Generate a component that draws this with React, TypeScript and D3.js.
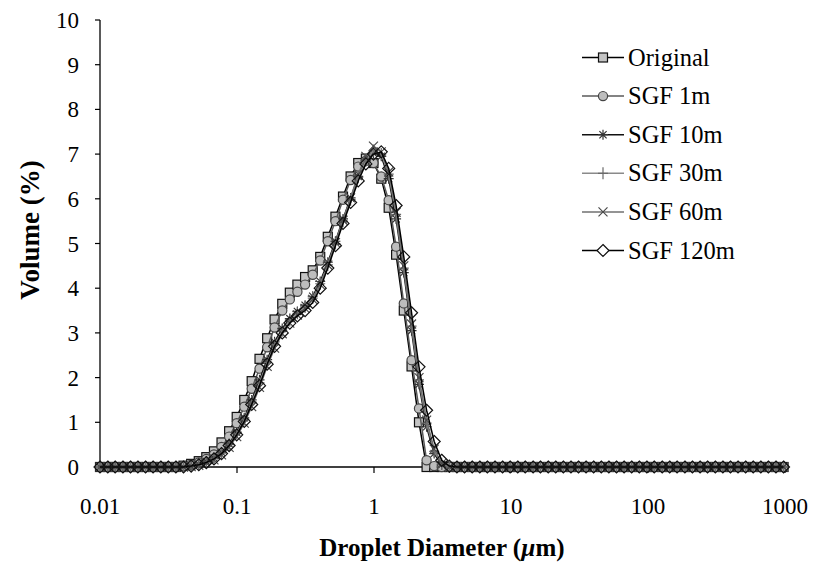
import React from "react";
import * as d3 from "d3";

// Droplet diameter bins (µm)
const diameters = [
  0.01, 0.0114, 0.0129, 0.0147, 0.0167, 0.0189, 0.0215, 0.0244, 0.0278, 0.0315,
  0.0358, 0.0407, 0.0463, 0.0526, 0.0597, 0.0679, 0.0771, 0.0876, 0.0995, 0.113,
  0.128, 0.146, 0.166, 0.188, 0.214, 0.243, 0.276, 0.314, 0.357, 0.405,
  0.46, 0.523, 0.594, 0.675, 0.767, 0.872, 0.991, 1.13, 1.28, 1.45,
  1.65, 1.88, 2.13, 2.42, 2.75, 3.12, 3.55, 4.03, 4.58, 5.21,
  5.92, 6.72, 7.64, 8.68, 9.86, 11.2, 12.7, 14.5, 16.4, 18.7,
  21.2, 24.1, 27.4, 31.1, 35.3, 40.1, 45.6, 51.8, 58.9, 66.9,
  76.0, 86.4, 98.1, 111, 127, 144, 163, 186, 211, 240,
  272, 310, 352, 400, 454, 516, 586, 666, 756, 859,
  976,
];

const original = [
  0, 0, 0, 0, 0, 0, 0, 0, 0, 0, 0,
  0.03, 0.07, 0.13, 0.22, 0.35, 0.55, 0.8, 1.12, 1.5, 1.92, 2.42, 2.88, 3.3, 3.65, 3.9, 4.08, 4.25, 4.4, 4.7,
  5.15, 5.6, 6.05, 6.5, 6.8, 6.9, 6.8, 6.45, 5.8, 4.75, 3.5, 2.25, 1.0, 0, 0, 0, 0, 0,
  0, 0, 0, 0, 0, 0, 0, 0, 0, 0, 0, 0, 0, 0, 0, 0, 0, 0, 0, 0, 0, 0,
  0, 0, 0, 0, 0, 0, 0, 0, 0, 0, 0, 0, 0, 0, 0, 0, 0, 0, 0, 0, 0,
];
const sgf1 = [
  0, 0, 0, 0, 0, 0, 0, 0, 0, 0, 0,
  0.02, 0.05, 0.1, 0.18, 0.28, 0.45, 0.68, 0.98, 1.35, 1.75, 2.2, 2.68, 3.12, 3.5, 3.75, 3.92, 4.08, 4.3, 4.62,
  5.05, 5.5, 5.98, 6.42, 6.72, 6.85, 6.8, 6.5, 5.97, 4.93, 3.66, 2.39, 1.31, 0.15, 0.02, 0, 0, 0,
  0, 0, 0, 0, 0, 0, 0, 0, 0, 0, 0, 0, 0, 0, 0, 0, 0, 0, 0, 0, 0, 0,
  0, 0, 0, 0, 0, 0, 0, 0, 0, 0, 0, 0, 0, 0, 0, 0, 0, 0, 0, 0, 0,
];
const sgf10 = [
  0, 0, 0, 0, 0, 0, 0, 0, 0, 0, 0,
  0, 0.02, 0.06, 0.12, 0.2, 0.33, 0.52, 0.78, 1.1, 1.5, 1.95, 2.4, 2.8, 3.1, 3.32, 3.48, 3.62, 3.82, 4.15,
  4.58, 5.05, 5.55, 6.02, 6.5, 6.85, 7.02, 6.95, 6.45, 5.55, 4.35, 3.05, 1.85, 0.9, 0.3, 0.05, 0, 0,
  0, 0, 0, 0, 0, 0, 0, 0, 0, 0, 0, 0, 0, 0, 0, 0, 0, 0, 0, 0, 0, 0,
  0, 0, 0, 0, 0, 0, 0, 0, 0, 0, 0, 0, 0, 0, 0, 0, 0, 0, 0, 0, 0,
];
const sgf30 = [
  0, 0, 0, 0, 0, 0, 0, 0, 0, 0, 0,
  0, 0.02, 0.05, 0.11, 0.19, 0.31, 0.5, 0.75, 1.06, 1.45, 1.88, 2.34, 2.74, 3.05, 3.28, 3.44, 3.58, 3.78, 4.1,
  4.52, 5.0, 5.5, 5.98, 6.48, 6.85, 7.08, 7.0, 6.55, 5.65, 4.45, 3.15, 1.95, 0.98, 0.35, 0.07, 0, 0,
  0, 0, 0, 0, 0, 0, 0, 0, 0, 0, 0, 0, 0, 0, 0, 0, 0, 0, 0, 0, 0, 0,
  0, 0, 0, 0, 0, 0, 0, 0, 0, 0, 0, 0, 0, 0, 0, 0, 0, 0, 0, 0, 0,
];
const sgf60 = [
  0, 0, 0, 0, 0, 0, 0, 0, 0, 0, 0,
  0, 0.01, 0.04, 0.09, 0.16, 0.27, 0.44, 0.68, 0.98, 1.35, 1.78, 2.25, 2.66, 2.98, 3.22, 3.4, 3.55, 3.75, 4.08,
  4.52, 5.02, 5.52, 6.02, 6.55, 6.95, 7.18, 7.05, 6.6, 5.7, 4.5, 3.2, 2.0, 1.05, 0.4, 0.08, 0, 0,
  0, 0, 0, 0, 0, 0, 0, 0, 0, 0, 0, 0, 0, 0, 0, 0, 0, 0, 0, 0, 0, 0,
  0, 0, 0, 0, 0, 0, 0, 0, 0, 0, 0, 0, 0, 0, 0, 0, 0, 0, 0, 0, 0,
];
const sgf120 = [
  0, 0, 0, 0, 0, 0, 0, 0, 0, 0, 0,
  0, 0.02, 0.05, 0.1, 0.18, 0.3, 0.48, 0.72, 1.02, 1.4, 1.82, 2.3, 2.7, 3.0, 3.22, 3.38, 3.5, 3.68, 4.0,
  4.45, 4.95, 5.45, 5.92, 6.4, 6.78, 7.0, 7.05, 6.68, 5.85, 4.7, 3.45, 2.24, 1.27, 0.57, 0.15, 0.02, 0,
  0, 0, 0, 0, 0, 0, 0, 0, 0, 0, 0, 0, 0, 0, 0, 0, 0, 0, 0, 0, 0, 0,
  0, 0, 0, 0, 0, 0, 0, 0, 0, 0, 0, 0, 0, 0, 0, 0, 0, 0, 0, 0, 0,
];

const seriesNames = ["Original", "SGF 1m", "SGF 10m", "SGF 30m", "SGF 60m", "SGF 120m"];
const seriesValues = [original, sgf1, sgf10, sgf30, sgf60, sgf120];
const xTicks = [0.01, 0.1, 1, 10, 100, 1000];
const xTickLabels = ["0.01", "0.1", "1", "10", "100", "1000"];
const yTicks = [0, 1, 2, 3, 4, 5, 6, 7, 8, 9, 10];

type Style = { kind: string; line: string; stroke: string; fill: string };
const styles: Style[] = [
  { kind: "square", line: "#000", stroke: "#111", fill: "#c4c4c4" },
  { kind: "circle", line: "#5a5a5a", stroke: "#444", fill: "#bdbdbd" },
  { kind: "asterisk", line: "#111", stroke: "#333", fill: "none" },
  { kind: "plus", line: "#8a8a8a", stroke: "#6a6a6a", fill: "none" },
  { kind: "cross", line: "#707070", stroke: "#4a4a4a", fill: "none" },
  { kind: "diamond", line: "#000", stroke: "#111", fill: "none" },
];

const FONT = "'Liberation Serif', 'Times New Roman', serif";

function Marker({ kind, x, y, s, fillOverride }: { kind: string; x: number; y: number; s: Style; fillOverride?: string }) {
  const sw = 1.2;
  const fill = fillOverride || s.fill;
  switch (kind) {
    case "square":
      return <rect x={x - 4.5} y={y - 4.5} width={9} height={9} fill={fill} stroke={s.stroke} strokeWidth={sw} />;
    case "circle":
      return <circle cx={x} cy={y} r={4.6} fill={fill} stroke={s.stroke} strokeWidth={sw} />;
    case "diamond":
      return <path d={`M${x},${y - 6}L${x + 6},${y}L${x},${y + 6}L${x - 6},${y}Z`} fill={fill} stroke={s.stroke} strokeWidth={sw} />;
    case "asterisk":
      return (
        <path
          d={`M${x - 5},${y}H${x + 5}M${x - 3.6},${y - 3.6}L${x + 3.6},${y + 3.6}M${x - 3.6},${y + 3.6}L${x + 3.6},${y - 3.6}M${x},${y - 5}V${y + 5}`}
          stroke={s.stroke}
          strokeWidth={sw}
          fill="none"
        />
      );
    case "plus":
      return <path d={`M${x - 5},${y}H${x + 5}M${x},${y - 6}V${y + 6}`} stroke={s.stroke} strokeWidth={sw} fill="none" />;
    case "cross":
      return (
        <path
          d={`M${x - 4.5},${y - 4.5}L${x + 4.5},${y + 4.5}M${x - 4.5},${y + 4.5}L${x + 4.5},${y - 4.5}`}
          stroke={s.stroke}
          strokeWidth={sw}
          fill="none"
        />
      );
    default:
      return null;
  }
}

export default function App() {
  const W = 814;
  const H = 562;
  const left = 100;
  const right = 785;
  const top = 20;
  const bottom = 467;

  const x = d3.scaleLog().domain([0.01, 1000]).range([left, right]);
  const y = d3.scaleLinear().domain([0, 10]).range([bottom, top]);

  const line = d3
    .line<number>()
    .x((_, i) => x(diameters[i]))
    .y((v) => y(v));

  const legendX = 582;
  const legendY0 = 57.5;
  const legendDy = 38.6;

  return (
    <div style={{ position: "fixed", left: 0, top: 0 }}>
      <svg width={W} height={H} style={{ display: "block", background: "#fff" }}>
        <rect x={0} y={0} width={W} height={H} fill="#fff" />
        {/* axes */}
        <line x1={left} x2={left} y1={top} y2={bottom} stroke="#000" strokeWidth={1.3} />
        <line x1={left} x2={right} y1={bottom} y2={bottom} stroke="#000" strokeWidth={1.3} />

        {/* y ticks */}
        {yTicks.map((t) => (
          <g key={"y" + t}>
            <line x1={left - 5} x2={left} y1={y(t)} y2={y(t)} stroke="#000" strokeWidth={1.2} />
            <text x={79} y={y(t) + 8} textAnchor="end" fontFamily={FONT} fontSize={23} fill="#000">
              {t}
            </text>
          </g>
        ))}

        {/* x ticks */}
        {xTicks.map((t, i) => (
          <g key={"x" + t}>
            <line x1={x(t)} x2={x(t)} y1={bottom} y2={bottom + 6} stroke="#000" strokeWidth={1.2} />
            <text x={x(t)} y={514} textAnchor="middle" fontFamily={FONT} fontSize={23} fill="#000">
              {xTickLabels[i]}
            </text>
          </g>
        ))}

        {/* series */}
        {seriesValues.map((vals, si) => {
          const s = styles[si];
          return (
            <g key={seriesNames[si]}>
              <path d={line(vals) || ""} fill="none" stroke={s.line} strokeWidth={1.5} />
              {vals.map((v, i) => (
                <Marker key={i} kind={s.kind} x={x(diameters[i])} y={y(v)} s={s} />
              ))}
            </g>
          );
        })}

        {/* legend */}
        {seriesNames.map((name, i) => {
          const s = styles[i];
          const ly = legendY0 + i * legendDy;
          return (
            <g key={"leg" + name}>
              <line x1={legendX} x2={legendX + 42} y1={ly} y2={ly} stroke={s.line} strokeWidth={1.5} />
              <Marker kind={s.kind} x={legendX + 21} y={ly} s={s} fillOverride={s.kind === "diamond" ? "#fff" : undefined} />
              <text x={legendX + 46} y={ly + 8} fontFamily={FONT} fontSize={24.5} fill="#000">
                {name}
              </text>
            </g>
          );
        })}

        {/* axis titles */}
        <text
          transform={`translate(39,${230}) rotate(-90)`}
          textAnchor="middle"
          fontFamily={FONT}
          fontWeight="bold"
          fontSize={27}
          fill="#000"
        >
          Volume (%)
        </text>
        <text x={442} y={556} textAnchor="middle" fontFamily={FONT} fontWeight="bold" fontSize={25} fill="#000">
          Droplet Diameter  (<tspan fontStyle="italic">µ</tspan>m)
        </text>
      </svg>
    </div>
  );
}
